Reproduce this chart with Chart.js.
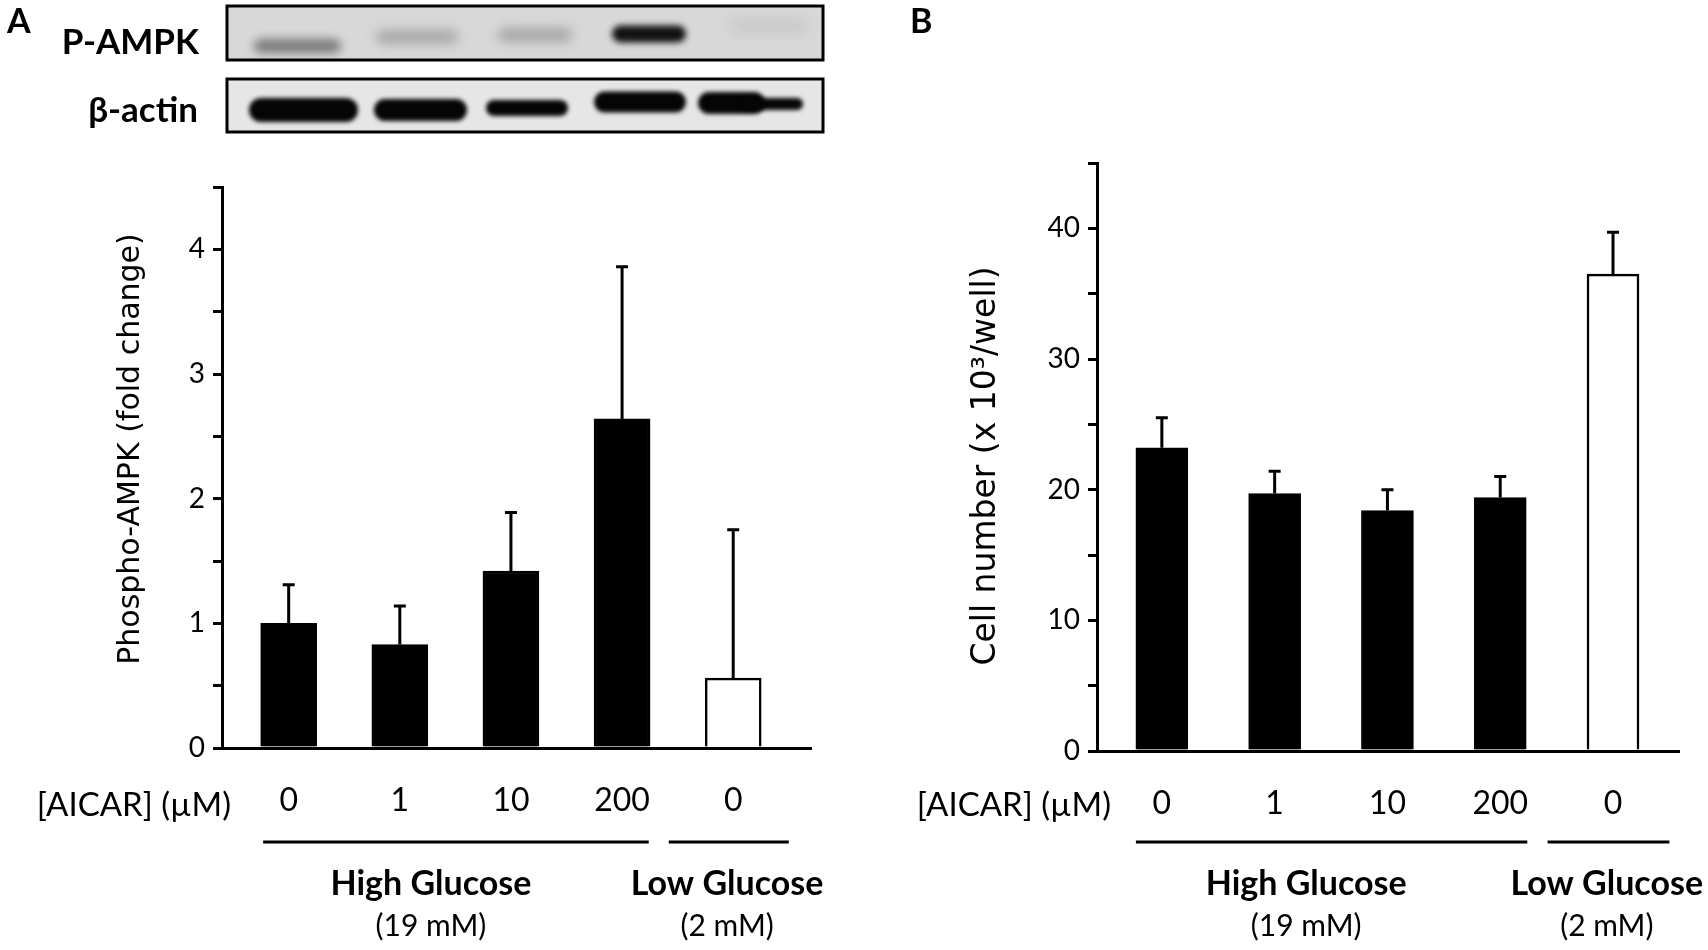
<!DOCTYPE html>
<html>
<head>
<meta charset="utf-8">
<script src="https://cdn.jsdelivr.net/npm/chart.js@4.4.1/dist/chart.umd.min.js"></script>
<style>
  body { margin: 0; background: #fff; }
  .panel { position: absolute; top: 0; width: 854px; height: 950px; }
</style>
</head>
<body>
<div class="panel" style="left:0"><canvas id="chartA" width="854" height="950"></canvas></div>
<div class="panel" style="left:854px"><canvas id="chartB" width="854" height="950"></canvas></div>
<script>
// values
const doses = ["0", "1", "10", "200", "0"];
const ampkMean = [1.00, 0.83, 1.42, 2.64, 0.56];
const ampkSd = [0.31, 0.31, 0.47, 1.22, 1.19];
const cellMean = [23.2, 19.7, 18.4, 19.4, 36.5];
const cellSd = [2.3, 1.7, 1.6, 1.6, 3.2];
const barColors = ["#000", "#000", "#000", "#000", "#fff"];
const groupNames = ["High Glucose", "Low Glucose"];
const groupConc = ["(19 mM)", "(2 mM)"];

Chart.defaults.color = "#000";

// SD whiskers, upward only, drawn through the scales
const errorBars = {
    id: "errorBars",
    afterDatasetsDraw(chart) {
        const { ctx, scales: { x, y } } = chart;
        const ds = chart.data.datasets[0];
        ctx.save();
        ctx.strokeStyle = "#000";
        ctx.lineWidth = 3;
        ds.data.forEach((p, i) => {
            const px = x.getPixelForValue(p.x);
            const base = y.getPixelForValue(p.y);
            const top = y.getPixelForValue(p.y + ds.sd[i]);
            ctx.beginPath();
            ctx.moveTo(px, base);
            ctx.lineTo(px, top);
            ctx.moveTo(px - 6, top);
            ctx.lineTo(px + 6, top);
            ctx.stroke();
        });
        ctx.restore();
    }
};

function pill(ctx, x1, x2, cy, h, color, blur) {
    ctx.save();
    ctx.filter = "blur(" + blur + "px)";
    ctx.fillStyle = color;
    ctx.beginPath();
    ctx.roundRect(x1, cy - h / 2, x2 - x1, h, h / 2);
    ctx.fill();
    ctx.restore();
}

function drawBlot(ctx) {
    // P-AMPK strip
    ctx.fillStyle = "#d8d8d8";
    ctx.fillRect(227, 6, 596, 54);
    pill(ctx, 254, 341, 46, 14, "#7a7a7a", 5);
    pill(ctx, 376, 458, 37, 13, "#a4a4a4", 6);
    pill(ctx, 498, 572, 35, 13, "#a2a2a2", 6);
    pill(ctx, 612, 686, 34, 17, "#111", 3);
    pill(ctx, 729, 808, 26, 13, "#c6c6c6", 7);
    // beta-actin strip
    ctx.fillStyle = "#e6e6e6";
    ctx.fillRect(227, 79, 596, 53);
    pill(ctx, 249, 358, 110, 24, "#050505", 2);
    pill(ctx, 374, 467, 110, 22, "#050505", 2);
    pill(ctx, 486, 568, 108, 16, "#050505", 2);
    pill(ctx, 594, 686, 102, 21, "#050505", 2);
    pill(ctx, 698, 765, 103, 22, "#050505", 2);
    pill(ctx, 740, 803, 104, 12, "#050505", 2);
    ctx.strokeStyle = "#000";
    ctx.lineWidth = 3;
    ctx.strokeRect(227, 6, 596, 54);
    ctx.strokeRect(227, 79, 596, 53);
    ctx.fillStyle = "#000";
    ctx.textAlign = "right";
    ctx.textBaseline = "alphabetic";
    ctx.font = "bold 35px Lato";
    ctx.fillText("P-AMPK", 199, 54);
    ctx.fillText("\u03b2-actin", 198, 122);
}

function panelPlugin(cfg) {
    return {
        id: "panel" + cfg.letter,
        afterDraw(chart) {
            const { ctx, scales: { x } } = chart;
            ctx.save();
            ctx.fillStyle = "#000";
            ctx.textBaseline = "alphabetic";
            if (cfg.blot) drawBlot(ctx);
            // panel letter
            ctx.textAlign = "left";
            ctx.font = "bold 34px Lato";
            ctx.fillText(cfg.letter, cfg.letterX, 33);
            // y title
            ctx.save();
            ctx.translate(cfg.titleX, cfg.titleY);
            ctx.rotate(-Math.PI / 2);
            ctx.textAlign = "center";
            ctx.textBaseline = "middle";
            ctx.font = cfg.titleSize + "px 'DejaVu Sans'";
            ctx.fillText(cfg.title, 0, 0);
            ctx.restore();
            // dose row caption
            ctx.textAlign = "right";
            ctx.font = "33px Lato";
            ctx.fillText("[AICAR] (\u00b5M)", cfg.aicarRight, 816);
            // group brackets and names
            const spans = [[-0.23, 3.24], [3.42, 4.5]];
            const centers = [1.28, 3.945];
            ctx.strokeStyle = "#000";
            ctx.lineWidth = 3;
            spans.forEach(s => {
                ctx.beginPath();
                ctx.moveTo(x.getPixelForValue(s[0]), 842);
                ctx.lineTo(x.getPixelForValue(s[1]), 842);
                ctx.stroke();
            });
            ctx.textAlign = "center";
            centers.forEach((c, i) => {
                const cx = x.getPixelForValue(c);
                ctx.font = "bold 34px Lato";
                ctx.fillText(groupNames[i], cx, 895);
                ctx.font = "30px Lato";
                ctx.fillText(groupConc[i], cx, 936);
            });
            ctx.restore();
        }
    };
}

function makeChart(id, means, sds, cfg) {
    return new Chart(document.getElementById(id), {
        type: "bar",
        data: {
            datasets: [{
                data: means.map((v, i) => ({ x: i, y: v })),
                sd: sds,
                backgroundColor: barColors,
                borderColor: "#000",
                borderWidth: 2.5,
                barThickness: cfg.barWidth
            }]
        },
        options: {
            responsive: false,
            animation: false,
            layout: { padding: { left: 0, right: 854 - cfg.right, top: cfg.top, bottom: 950 - cfg.bottom - 80 } },
            plugins: { legend: { display: false }, tooltip: { enabled: false } },
            scales: {
                x: {
                    type: "linear",
                    offset: false,
                    min: cfg.xMin,
                    max: cfg.xMax,
                    grid: { display: false, drawTicks: false, offset: false },
                    border: { display: true, color: "#000", width: 3 },
                    afterBuildTicks: s => { s.ticks = doses.map((d, i) => ({ value: i })); },
                    afterFit: s => { s.height = 80; },
                    ticks: {
                        callback: v => doses[v],
                        autoSkip: false,
                        maxRotation: 0,
                        padding: 33,
                        font: { family: "Lato", size: 32 }
                    }
                },
                y: {
                    min: 0,
                    max: cfg.yMax,
                    grid: { drawOnChartArea: false, tickLength: 9, lineWidth: 3, color: "#000" },
                    border: { display: true, color: "#000", width: 3 },
                    afterFit: s => { s.width = cfg.left; },
                    ticks: {
                        stepSize: cfg.step,
                        callback: v => (Math.abs(v / cfg.labelEvery - Math.round(v / cfg.labelEvery)) < 1e-6 ? v : ""),
                        padding: 8,
                        font: { family: "Lato", size: 28 }
                    }
                }
            }
        },
        plugins: [errorBars, panelPlugin(cfg)]
    });
}

makeChart("chartA", ampkMean, ampkSd, {
    letter: "A", letterX: 7, blot: true,
    title: "Phospho-AMPK (fold change)", titleX: 131, titleY: 449, titleSize: 30,
    aicarRight: 231,
    left: 222, right: 811, top: 187, bottom: 748,
    xMin: -0.6, xMax: 4.7, yMax: 4.5, step: 0.5, labelEvery: 1, barWidth: 56
});

makeChart("chartB", cellMean, cellSd, {
    letter: "B", letterX: 56, blot: false,
    title: "Cell number (x 10\u00b3/well)", titleX: 132, titleY: 466, titleSize: 33,
    aicarRight: 257,
    left: 243, right: 825, top: 163, bottom: 751,
    xMin: -0.575, xMax: 4.585, yMax: 45, step: 5, labelEvery: 10, barWidth: 52
});
</script>
</body>
</html>
